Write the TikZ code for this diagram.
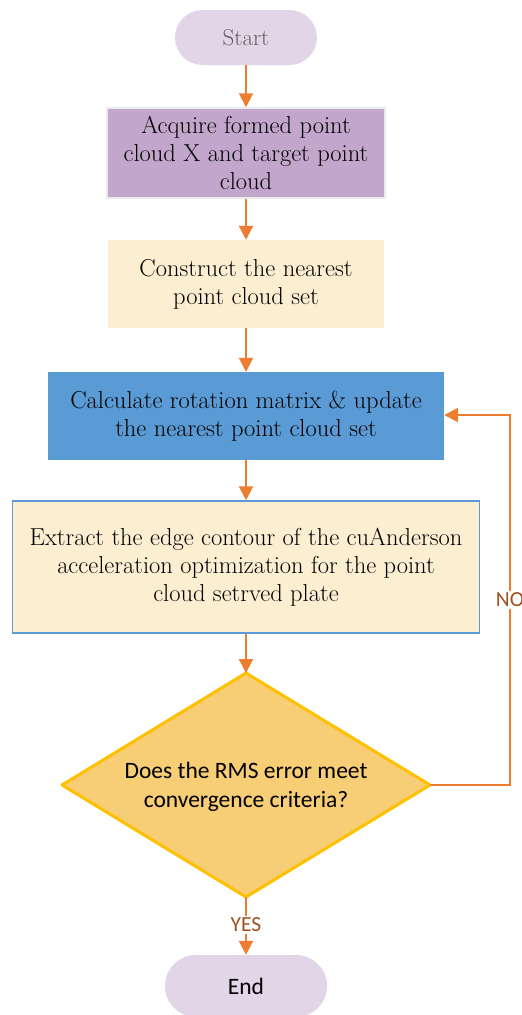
\documentclass[tikz,border=0pt]{standalone}
\usepackage{fontspec}
\newfontfamily\calibri{Carlito}
\usetikzlibrary{arrows.meta,shapes.geometric,shapes.misc}
\definecolor{pill}{HTML}{E1D5E7}
\definecolor{startgray}{HTML}{5F5F5F}
\definecolor{purp}{HTML}{C3A6CC}
\definecolor{cream}{HTML}{FCEFD1}
\definecolor{blu}{HTML}{5B9BD5}
\definecolor{dfill}{HTML}{F7CD75}
\definecolor{dline}{HTML}{FFC000}
\definecolor{arr}{HTML}{ED7D31}
\definecolor{lab}{HTML}{A0501E}
\tikzset{
  serif/.style={font=\fontsize{24.5}{28}\selectfont, align=center, inner sep=0pt},
  pillbox/.style={rounded rectangle, fill=pill, draw=none, inner sep=0pt},
  flowarrow/.style={draw=arr, line width=2pt, -{Triangle[width=14pt,length=14pt]}},
  lbl/.style={font=\calibri\fontsize{21.5}{24}\selectfont, text=lab, fill=white, inner sep=2pt},
}
\begin{document}
\begin{tikzpicture}[x=1pt,y=-1pt]
\useasboundingbox (0,0) rectangle (522,1015);
\clip (0,0) rectangle (522,1015);
\fill[white] (0,0) rectangle (522,1015);
% Start
\node[pillbox, minimum width=142pt, minimum height=55pt, font=\fontsize{23}{26}\selectfont, text=startgray] (start) at (246,37.5) {Start};
% Acquire
\node[fill=purp, draw=black!8, line width=1.5pt, minimum width=278pt, minimum height=90pt, serif] (acq) at (246,153) {Acquire formed point\\cloud X and target point\\cloud};
% Construct
\node[fill=cream, minimum width=276pt, minimum height=88pt, serif] (con) at (246,284) {Construct the nearest\\point cloud set};
% Calculate
\node[fill=blu, minimum width=396pt, minimum height=88pt, serif] (calc) at (246,416) {Calculate rotation matrix \& update\\the nearest point cloud set};
% Extract
\node[fill=cream, draw=blu, line width=1.5pt, minimum width=467pt, minimum height=132pt, serif] (ext) at (246,567) {Extract the edge contour of the cuAnderson\\acceleration optimization for the point\\cloud setrved plate};
% Diamond
\coordinate (dt) at (246,673);
\coordinate (dl) at (62,785);
\coordinate (dr) at (430,785);
\coordinate (db) at (246,897);
\draw[fill=dfill, draw=dline, line width=3pt, line join=round] (dt) -- (dr) -- (db) -- (dl) -- cycle;
\node[font=\calibri\fontsize{23.5}{29}\selectfont, align=center] (dec) at (246,787) {Does the RMS error meet\\convergence criteria?};
% End
\node[pillbox, minimum width=162pt, minimum height=62pt, font=\calibri\fontsize{23.5}{26}\selectfont] (end) at (246,986) {End};
% arrows
\draw[flowarrow] (start.south) -- (acq.north);
\draw[flowarrow] (acq.south) -- (con.north);
\draw[flowarrow] (con.south) -- (calc.north);
\draw[flowarrow] (calc.south) -- (ext.north);
\draw[flowarrow] (ext.south) -- (dt);
\draw[flowarrow] (db) -- (end.north) node[lbl, pos=0.48] {YES};
\coordinate (nc) at (510,785);
\coordinate (nt) at (510,415);
\draw[flowarrow] (dr) -- (nc) -- node[lbl, pos=0.5] {NO} (nt) -- (calc.east |- nt);
\end{tikzpicture}
\end{document}
